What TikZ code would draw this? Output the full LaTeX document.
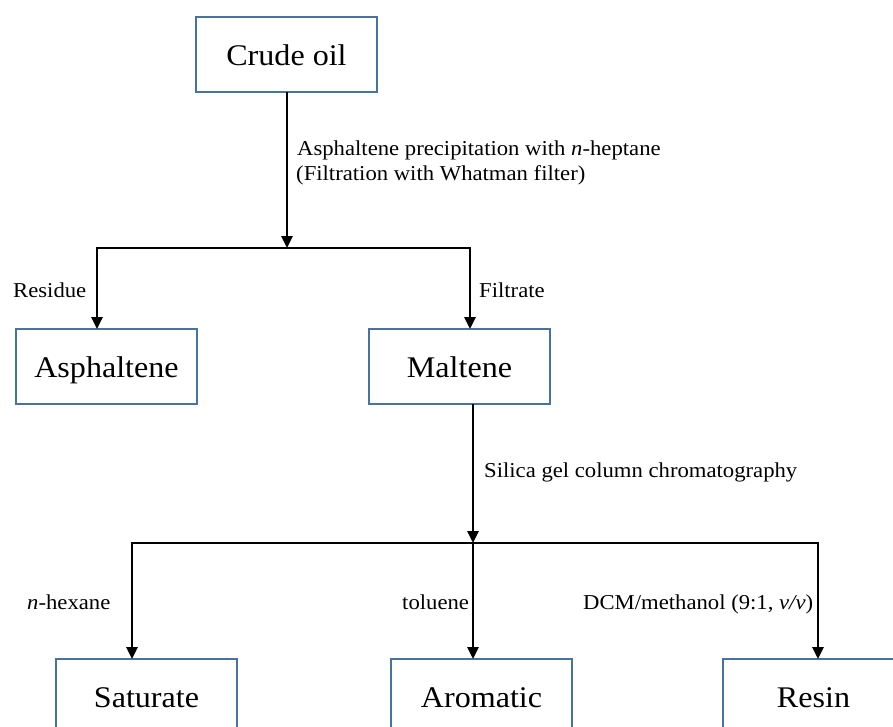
\documentclass[tikz,border=0pt]{standalone}
\usepackage{fontspec}
\setmainfont{Liberation Serif}[FakeStretch=1.07]
\usetikzlibrary{arrows.meta}

\definecolor{boxblue}{RGB}{70,115,160}

\tikzset{
  fraction/.style={draw=boxblue, line width=1.8pt, minimum width=181pt,
    minimum height=75pt, inner sep=0pt, outer sep=0pt,
    text height=22pt, text depth=0pt, font=\fontsize{30}{36}\selectfont},
  conn/.style={line width=2.8pt, line join=miter},
  flow/.style={conn, -{Triangle[length=12pt,width=11pt]}},
  note/.style={anchor=base west, inner sep=0pt, font=\fontsize{21.2}{25}\selectfont}
}

\begin{document}
\begin{tikzpicture}[x=1pt, y=-1pt]
  \useasboundingbox (0,0) rectangle (893,726);

  % fractions
  \node[fraction] (crude) at (286.5,54.5) {Crude oil};
  \node[fraction] (asph)  at (106.5,366.5) {Asphaltene};
  \node[fraction] (malt)  at (459.5,366.5) {Maltene};
  \node[fraction] (sat)   at (146.5,696.5) {Saturate};
  \node[fraction] (aro)   at (481.5,696.5) {Aromatic};
  \node[fraction] (resin) at (813.5,696.5) {Resin};

  % branch points and arrow ends
  \coordinate (split1) at (287,248);
  \coordinate (asphIn) at (97,329);
  \coordinate (maltIn) at (470,329);
  \coordinate (maltOut) at (473,404);
  \coordinate (split2) at (473,543);
  \coordinate (satIn) at (132,659);
  \coordinate (aroIn) at (473,659);
  \coordinate (resIn) at (818,659);

  % precipitation step
  \draw[flow] (crude.south -| split1) -- (split1);
  \draw[flow] (split1) -| (asphIn);
  \draw[flow] (split1) -| (maltIn);

  % chromatography step
  \draw[flow] (maltOut) -- (split2);
  \draw[flow] (split2) -| (satIn);
  \draw[flow] (split2) -- (aroIn);
  \draw[flow] (split2) -| (resIn);

  % step labels
  \node[note] (prec1) at (297,155) {Asphaltene precipitation with \textit{n}-heptane};
  \node[note] (prec2) at (296,180) {(Filtration with Whatman filter)};
  \node[note] (resid) at (13,297) {Residue};
  \node[note] (filt)  at (479,297) {Filtrate};
  \node[note] (silica) at (484,477) {Silica gel column chromatography};
  \node[note] (hex) at (27,609) {\textit{n}-hexane};
  \node[note] (tol) at (402,609) {toluene};
  \node[note] (dcm) at (583,609) {DCM/methanol (9:1, \textit{v/v})};
\end{tikzpicture}
\end{document}
